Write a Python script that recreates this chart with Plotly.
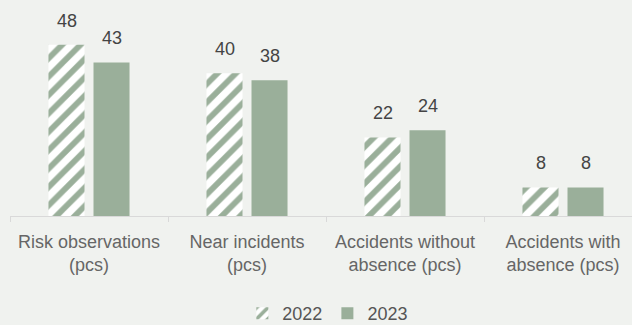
import plotly.graph_objects as go

categories = ["Risk observations<br>(pcs)", "Near incidents<br>(pcs)",
              "Accidents without<br>absence (pcs)", "Accidents with<br>absence (pcs)"]
values_2022 = [48, 40, 22, 8]
values_2023 = [43, 38, 24, 8]
series_names = ["2022", "2023"]

GREEN = "#9AAF9A"
BG = "#F0F2EF"
FONT = "Liberation Sans"

fig = go.Figure()
fig.add_trace(go.Bar(
    x=categories, y=values_2022, name=series_names[0],
    marker=dict(color="white", line=dict(width=0),
                pattern=dict(shape="/", fgcolor=GREEN, bgcolor="white",
                             fgopacity=1, size=13, solidity=0.45)),
))
fig.add_trace(go.Bar(
    x=categories, y=values_2023, name=series_names[1],
    marker=dict(color=GREEN, line=dict(width=0)),
))

off = 22.5 / 158
annotations = []
for i, (a, b) in enumerate(zip(values_2022, values_2023)):
    for dx, v in ((-off, a), (off, b)):
        annotations.append(dict(
            x=i + dx, y=v, xref="x", yref="y", text=str(v), showarrow=False,
            yanchor="middle", yshift=24,
            font=dict(family=FONT, size=18, color="#444444"),
        ))

fig.update_layout(
    width=632, height=325,
    paper_bgcolor=BG, plot_bgcolor=BG,
    margin=dict(l=10, r=0, t=5, b=109, autoexpand=False),
    barmode="group", bargap=0.43, bargroupgap=0.2,
    annotations=annotations,
    showlegend=True,
    legend=dict(orientation="h", x=0.511, xanchor="center",
                y=-0.462, yanchor="middle",
                font=dict(family=FONT, size=18, color="#555555"),
                traceorder="normal", itemsizing="constant"),
    font=dict(family=FONT, size=18, color="#666666"),
    xaxis=dict(
        type="category", range=[-0.5, -0.5 + 622 / 158], automargin=False,
        showline=True, linecolor="#D9D9D9", linewidth=1,
        ticks="outside", ticklen=5, tickcolor="#D9D9D9", tickson="boundaries",
        ticklabelstandoff=9,
        tickfont=dict(family=FONT, size=18, color="#666666"),
        showgrid=False, zeroline=False,
    ),
    yaxis=dict(range=[0, 211 / 3.57], visible=False, showgrid=False,
               zeroline=False, automargin=False),
)

fig.write_html(
    "out.html",
    config={"displayModeBar": False},
    post_script="document.body.style.margin='0';document.body.style.background='%s';" % BG,
)
